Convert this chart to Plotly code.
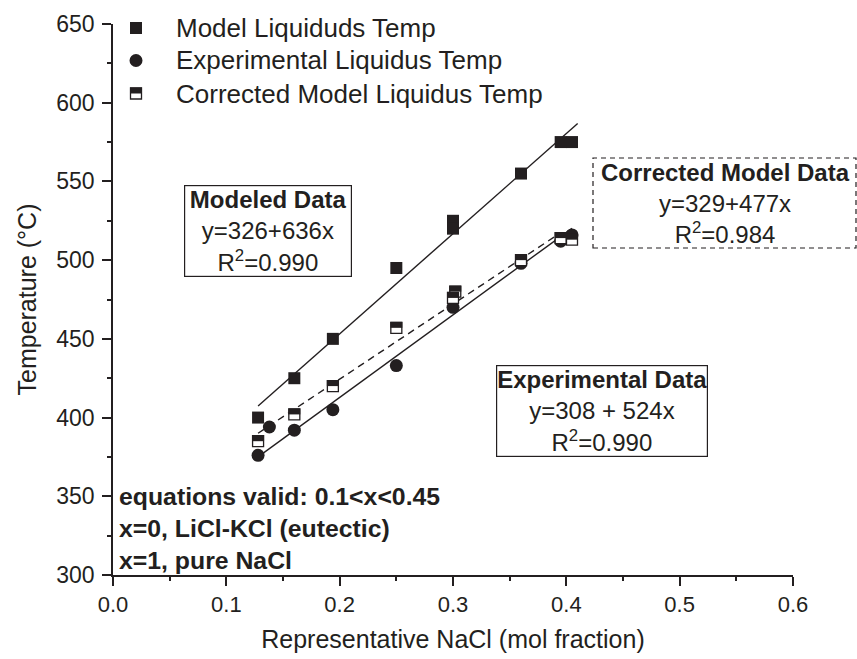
import plotly.graph_objects as go

# ---------------- data ----------------
x_model = [0.128, 0.160, 0.194, 0.250, 0.300, 0.300, 0.360, 0.395, 0.405]
y_model = [400, 425, 450, 495, 525, 520, 555, 575, 575]

x_exp = [0.128, 0.138, 0.160, 0.194, 0.250, 0.300, 0.360, 0.395, 0.405]
y_exp = [376, 394, 392, 405, 433, 470, 498, 512, 516]

x_corr = [0.128, 0.160, 0.194, 0.250, 0.302, 0.300, 0.360, 0.395, 0.405]
y_corr = [385, 402, 420, 457, 480, 476, 500, 514, 513]

series_names = ["Model Liquiduds Temp", "Experimental Liquidus Temp",
                "Corrected Model Liquidus Temp"]

# regression lines as printed on the chart: y = a + b x
fit_intercept = [326, 308, 329]
fit_slope = [636, 524, 477]
fit_xstart = [0.128, 0.128, 0.128]
fit_xend = [0.410, 0.405, 0.395]
fit_dash = ["solid", "solid", "7px,5px"]

x_ticks = [0.0, 0.1, 0.2, 0.3, 0.4, 0.5, 0.6]
y_ticks = [300, 350, 400, 450, 500, 550, 600, 650]

# ---------------- style ----------------
INK = "#231f20"
FONT = "Liberation Sans, Arial, sans-serif"
W, H = 857, 659
ML, MR, MT, MB = 113, 64, 24, 84
PW = W - ML - MR
PH = H - MT - MB


def px_x(p):
    return (p - ML) / PW


def px_y(p):
    return 1 - (p - MT) / PH


fig = go.Figure()

for a, b, x0, x1, dash in zip(fit_intercept, fit_slope, fit_xstart, fit_xend, fit_dash):
    fig.add_trace(go.Scatter(
        x=[x0, x1], y=[a + b * x0, a + b * x1], mode="lines",
        line=dict(color=INK, width=1.4, dash=dash),
        showlegend=False, hoverinfo="skip"))

fig.add_trace(go.Scatter(
    x=x_model, y=y_model, mode="markers", name=series_names[0],
    showlegend=False,
    marker=dict(symbol="square", size=12, color=INK, line=dict(width=0))))
fig.add_trace(go.Scatter(
    x=x_exp, y=y_exp, mode="markers", name=series_names[1],
    showlegend=False,
    marker=dict(symbol="circle", size=13, color=INK, line=dict(width=0))))
fig.add_trace(go.Scatter(
    x=x_corr, y=y_corr, mode="markers", name=series_names[2],
    showlegend=False,
    marker=dict(symbol="square", size=11, color="white",
                line=dict(color=INK, width=1.3))))

# top half of the half-filled squares
HS = 6.0
for xv, yv in zip(x_corr, y_corr):
    fig.add_shape(type="rect", xref="x", yref="y",
                  xsizemode="pixel", ysizemode="pixel",
                  xanchor=xv, yanchor=yv,
                  x0=-HS, x1=HS, y0=0, y1=HS,
                  fillcolor=INK, line=dict(width=0))

# ---------------- legend (drawn as text + symbols) ----------------
LEG_SYM_X, LEG_TXT_X = 136, 174
LEG_ROWS = [28, 60.5, 93.5]
leg_font = dict(family=FONT, size=26, color=INK)
for name, row in zip(series_names, LEG_ROWS):
    fig.add_annotation(x=px_x(LEG_TXT_X), y=px_y(row), xref="paper", yref="paper",
                       text=name, showarrow=False, font=leg_font,
                       xanchor="left", yanchor="middle")
sx, r0, r1, r2 = px_x(LEG_SYM_X), px_y(LEG_ROWS[0]), px_y(LEG_ROWS[1]), px_y(LEG_ROWS[2])
fig.add_shape(type="rect", xref="paper", yref="paper", xsizemode="pixel", ysizemode="pixel",
              xanchor=sx, yanchor=r0, x0=-6, x1=6, y0=-6, y1=6,
              fillcolor=INK, line=dict(width=0))
fig.add_shape(type="circle", xref="paper", yref="paper", xsizemode="pixel", ysizemode="pixel",
              xanchor=sx, yanchor=r1, x0=-6.5, x1=6.5, y0=-6.5, y1=6.5,
              fillcolor=INK, line=dict(width=0))
fig.add_shape(type="rect", xref="paper", yref="paper", xsizemode="pixel", ysizemode="pixel",
              xanchor=sx, yanchor=r2, x0=-5.5, x1=5.5, y0=-5.5, y1=5.5,
              fillcolor="white", line=dict(color=INK, width=1.3))
fig.add_shape(type="rect", xref="paper", yref="paper", xsizemode="pixel", ysizemode="pixel",
              xanchor=sx, yanchor=r2, x0=-6, x1=6, y0=0, y1=6,
              fillcolor=INK, line=dict(width=0))

# ---------------- annotation boxes ----------------
ann_font = dict(family=FONT, size=24, color=INK)
fig.add_annotation(
    x=px_x(268), y=px_y(230.5), xref="paper", yref="paper",
    text="<b>Modeled Data</b><br>y=326+636x<br>R<sup>2</sup>=0.990",
    showarrow=False, font=ann_font, align="center", width=166,
    bordercolor=INK, borderwidth=1.2, borderpad=0,
    xanchor="center", yanchor="middle")
fig.add_annotation(
    x=px_x(602), y=px_y(411), xref="paper", yref="paper",
    text="<b>Experimental Data</b><br>y=308 + 524x<br>R<sup>2</sup>=0.990",
    showarrow=False, font=ann_font, align="center",
    bordercolor=INK, borderwidth=1.2, borderpad=0,
    xanchor="center", yanchor="middle")
fig.add_annotation(
    x=px_x(725), y=px_y(203), xref="paper", yref="paper",
    text="<b>Corrected Model Data</b><br>y=329+477x<br>R<sup>2</sup>=0.984",
    showarrow=False, font=ann_font, align="center",
    xanchor="center", yanchor="middle")
fig.add_shape(type="rect", xref="paper", yref="paper",
              x0=px_x(593), x1=px_x(856), y0=px_y(248), y1=px_y(158),
              line=dict(color=INK, width=1.2, dash="5px,4px"))

fig.add_annotation(
    x=px_x(117), y=px_y(528), xref="paper", yref="paper",
    text="<b>equations valid: 0.1&lt;x&lt;0.45</b><br>"
         "<b>x=0, LiCl-KCl (eutectic)</b><br><b>x=1, pure NaCl</b>",
    showarrow=False, font=dict(family=FONT, size=24.8, color=INK), align="left",
    xanchor="left", yanchor="middle")

axis_common = dict(
    showgrid=False, zeroline=False, showline=True, linecolor=INK, linewidth=1.8,
    ticks="outside", ticklen=9, tickwidth=1.5, tickcolor=INK,
    mirror=False)

fig.update_xaxes(
    range=[0, 0.6], tickvals=x_ticks, ticktext=[f"{v:.1f}" for v in x_ticks],
    tickfont=dict(family=FONT, size=22, color=INK),
    minor=dict(ticks="outside", ticklen=4, tickwidth=1.5, tickcolor=INK, dtick=0.05),
    title=dict(text="Representative NaCl (mol fraction)",
               font=dict(family=FONT, size=25, color=INK), standoff=14),
    **axis_common)
fig.update_yaxes(
    range=[300, 650], tickvals=y_ticks,
    tickfont=dict(family=FONT, size=23, color=INK),
    ticklabelstandoff=3,
    minor=dict(ticks="outside", ticklen=4, tickwidth=1.5, tickcolor=INK, dtick=25),
    title=dict(text="Temperature (°C)",
               font=dict(family=FONT, size=25, color=INK), standoff=12),
    **axis_common)

fig.update_layout(
    width=W, height=H,
    margin=dict(l=ML, r=MR, t=MT, b=MB, autoexpand=False),
    paper_bgcolor="white", plot_bgcolor="white",
    font=dict(family=FONT, color=INK),
    showlegend=False,
)

fig.write_html("out.html")
